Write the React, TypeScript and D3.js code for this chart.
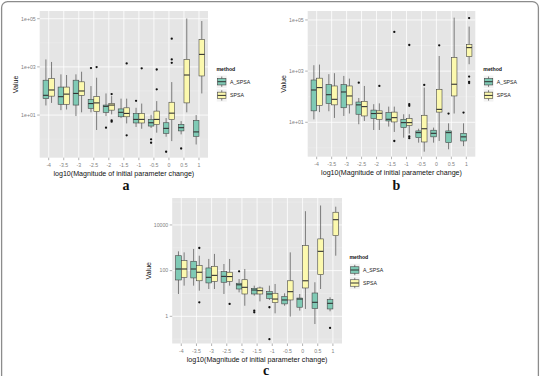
import React from "react";
import * as d3 from "d3";

const categories = ["-4", "-3.5", "-3", "-2.5", "-2", "-1.5", "-1", "-0.5", "0", "0.5", "1"];
const methods = ["A_SPSA", "SPSA"];
const fills = ["#7fcab5", "#fcf9ae"];

// Each row: [lower whisker, Q1, median, Q3, upper whisker]
const aStatsA = [
  [25, 48, 66, 280, 2040], [16, 28, 58, 145, 490], [9.1, 26, 79, 280, 490], [13, 19, 30, 45, 160],
  [9.1, 13, 23, 26, 79], [7.5, 8.5, 13, 18, 48], [3.2, 4.7, 6.6, 11.7, 20], [2.9, 3.5, 4.8, 6.6, 10.3],
  [1.26, 1.73, 2.8, 4.8, 7.5], [1.58, 2.2, 3.0, 4.1, 5.6], [0.6, 1.3, 2.0, 6.0, 10],
];
const aStatsS = [
  [32, 61, 110, 330, 1600], [17, 28, 74, 145, 460], [13, 66, 100, 240, 630], [2.4, 14, 32, 58, 355],
  [10.7, 16, 26, 30, 61], [4.5, 8.5, 11.7, 20, 48], [2.7, 4.7, 6.6, 11.7, 30], [1.86, 4.1, 6.6, 14.6, 38],
  [0.83, 6.6, 12, 34, 234], [13, 32, 460, 2040, 102000], [79, 420, 3300, 13800, 80000],
];
const aOutA = [[], [], [], [890], [3.0], [], [39], [0.98, 0.71], [0.3], [0.41], []];
const aOutS = [[], [], [], [980], [74, 6.0, 5.3], [1390, 1.44], [870], [780, 117], [14800, 2040, 1480], [], []];

const bStatsA = [
  [13, 28, 183, 450, 1700], [27, 54, 120, 297, 760], [17.7, 37, 153, 297, 650], [8.4, 20.6, 48, 62, 89],
  [5.0, 13.9, 22, 30, 51], [6.8, 11.3, 13.1, 24, 41], [2.5, 6.2, 9.7, 13.1, 20.6], [1.6, 2.5, 3.95, 4.6, 5.6],
  [1.6, 2.7, 3.7, 4.9, 6.2], [0.88, 1.6, 3.95, 4.6, 9.1], [1.17, 1.86, 2.7, 3.7, 9.1],
];
const bStatsS = [
  [25, 46, 227, 530, 1800], [14.8, 48, 79, 263, 830], [22, 48, 107, 263, 510], [11.3, 17.7, 41, 66, 263],
  [5.0, 13.1, 22.5, 28, 55], [4.2, 10.3, 15.2, 25, 41], [3.6, 7.6, 9.7, 13.9, 20.6], [0.71, 1.7, 5.6, 18.8, 227],
  [1.86, 25, 32, 195, 3900], [22, 107, 307, 3400, 123000], [1860, 3700, 8300, 11000, 55000],
];
const bOutA = [[], [], [], [355], [], [], [], [], [], [22], [24]];
const bOutS = [[], [], [], [], [263], [34000, 1.86], [10500, 51, 44, 2.8, 2.4], [290], [10200], [], [118000, 610, 380, 340]];

const cStatsA = [
  [9.5, 39, 118, 450, 700], [22, 48, 118, 257, 890], [15.7, 29, 51, 131, 325], [9.5, 31, 56, 90, 195],
  [11.2, 15.7, 24, 28, 43], [8.0, 9.5, 14.2, 16.8, 22], [5.2, 6.1, 9.5, 12, 22], [2.9, 3.5, 5.2, 7.3, 10.2],
  [1.77, 2.5, 5.7, 6.3, 9.5], [0.46, 2.2, 4.1, 10.5, 31], [1.66, 2.1, 3.7, 5.4, 6.8],
];
const cStatsS = [
  [22, 51, 118, 275, 630], [13.3, 36, 85, 166, 450], [15.7, 34, 62, 155, 540], [22, 34, 55, 85, 325],
  [2.9, 9.5, 18.6, 40, 118], [4.5, 9.5, 13.3, 17.4, 20], [1.35, 4.0, 5.7, 10.2, 26], [0.97, 5.2, 12, 36, 630],
  [2.1, 17.4, 36, 1240, 40000], [15.7, 67, 700, 2450, 71000], [450, 3400, 17000, 36000, 63000],
];
const cOutA = [[], [], [], [], [93], [1.77, 1.5], [2.5, 0.1], [], [], [], [0.31]];
const cOutS = [[], [980, 4.1], [], [3.5], [], [], [], [], [], [], []];

const ticksAB = [10, 1000, 100000];
const tickLabelsAB = ["1e+01", "1e+03", "1e+05"];
const minorAB = [1, 100, 10000];
const ticksC = [1, 100, 10000];
const tickLabelsC = ["1", "100", "10000"];
const minorC = [0.1, 10, 1000, 100000];

const xTitle = "log10(Magnitude of initial parameter change)";
const yTitle = "Value";

const panels = [
  {
    letter: "a", stats: [aStatsA, aStatsS], outs: [aOutA, aOutS], ticks: ticksAB, tickLabels: tickLabelsAB, minor: minorAB,
    domain: [Math.pow(10, -0.77), Math.pow(10, 5.32)], x0: 39.7, x1: 208, y0: 11, y1: 157.7,
    yTitleX: 15, legX: 216.5, legTitleY: 69.3, legKeyY: [81.7, 95.4], letterX: 126, letterY: 190,
  },
  {
    letter: "b", stats: [bStatsA, bStatsS], outs: [bOutA, bOutS], ticks: ticksAB, tickLabels: tickLabelsAB, minor: minorAB,
    domain: [Math.pow(10, -0.345), Math.pow(10, 5.35)], x0: 307.7, x1: 475.3, y0: 11, y1: 156.7,
    yTitleX: 283.3, legX: 483.3, legTitleY: 69.3, legKeyY: [81.7, 95.4], letterX: 396.5, letterY: 190,
  },
  {
    letter: "c", stats: [cStatsA, cStatsS], outs: [cOutA, cOutS], ticks: ticksC, tickLabels: tickLabelsC, minor: minorC,
    domain: [Math.pow(10, -1.19), Math.pow(10, 5.18)], x0: 172.2, x1: 342, y0: 198, y1: 343.5,
    yTitleX: 148.3, legX: 349.5, legTitleY: 256.7, legKeyY: [270, 283], letterX: 266, letterY: 374.5,
  },
];

const FONT = "'Liberation Sans', Arial, Helvetica, sans-serif";

function Panel({ p }: { p: any }) {
  const x = d3.scalePoint<string>().domain(categories).range([p.x0, p.x1]).padding(0.6);
  const y = d3.scaleLog().domain(p.domain).range([p.y1, p.y0]);
  const step = x.step();
  const bw = step * 0.375;
  const offs = [-bw / 2, bw / 2];
  const keyW = 10.5, keyH = 13;
  return (
    <g>
      <rect x={p.x0} y={p.y0} width={p.x1 - p.x0} height={p.y1 - p.y0} fill="#e5e5e5" />
      {p.minor.map((m: number, i: number) => (
        <line key={"mn" + i} x1={p.x0} x2={p.x1} y1={y(m)} y2={y(m)} stroke="#f2f2f2" strokeWidth={0.4} />
      ))}
      {p.ticks.map((t: number, i: number) => (
        <line key={"mj" + i} x1={p.x0} x2={p.x1} y1={y(t)} y2={y(t)} stroke="#ffffff" strokeWidth={0.8} />
      ))}
      {categories.map((c) => (
        <line key={"vg" + c} x1={x(c)} x2={x(c)} y1={p.y0} y2={p.y1} stroke="#ffffff" strokeWidth={0.8} />
      ))}
      {methods.map((m, mi) =>
        p.stats[mi].map((s: number[], ci: number) => {
          const cx = (x(categories[ci]) as number) + offs[mi];
          return (
            <g key={m + ci}>
              <line x1={cx} x2={cx} y1={y(s[4])} y2={y(s[3])} stroke="#4d4d4d" strokeWidth={0.7} />
              <line x1={cx} x2={cx} y1={y(s[1])} y2={y(s[0])} stroke="#4d4d4d" strokeWidth={0.7} />
              <rect x={cx - bw / 2} y={y(s[3])} width={bw} height={y(s[1]) - y(s[3])} fill={fills[mi]} stroke="#444" strokeWidth={0.6} />
              <line x1={cx - bw / 2} x2={cx + bw / 2} y1={y(s[2])} y2={y(s[2])} stroke="#333" strokeWidth={1.1} />
              {p.outs[mi][ci].map((o: number, oi: number) => (
                <circle key={oi} cx={cx} cy={y(o)} r={1.15} fill="#111" />
              ))}
            </g>
          );
        })
      )}
      {p.ticks.map((t: number, i: number) => (
        <g key={"yt" + i}>
          <line x1={p.x0 - 2.5} x2={p.x0} y1={y(t)} y2={y(t)} stroke="#7f7f7f" strokeWidth={0.6} />
          <text x={p.x0 - 4} y={y(t)} dy="0.35em" textAnchor="end" fontSize={5.2} fill="#7f7f7f" fontFamily={FONT}>
            {p.tickLabels[i]}
          </text>
        </g>
      ))}
      {categories.map((c) => (
        <g key={"xt" + c}>
          <line x1={x(c)} x2={x(c)} y1={p.y1} y2={p.y1 + 2.5} stroke="#7f7f7f" strokeWidth={0.6} />
          <text x={x(c)} y={p.y1 + 7.3} dy="0.35em" textAnchor="middle" fontSize={5.2} fill="#7f7f7f" fontFamily={FONT}>
            {c}
          </text>
        </g>
      ))}
      <text x={(p.x0 + p.x1) / 2} y={p.y1 + 16} dy="0.35em" textAnchor="middle" fontSize={7.1} fill="#111" fontFamily={FONT}>
        {xTitle}
      </text>
      <text
        transform={`translate(${p.yTitleX},${(p.y0 + p.y1) / 2}) rotate(-90)`}
        dy="0.35em" textAnchor="middle" fontSize={7.1} fill="#111" fontFamily={FONT}
      >
        {yTitle}
      </text>
      <text x={p.legX} y={p.legTitleY} dy="0.35em" fontSize={5.2} fontWeight="bold" fill="#111" fontFamily={FONT}>
        method
      </text>
      {methods.map((m, mi) => {
        const ky = p.legKeyY[mi];
        const kx = p.legX;
        const top = ky - keyH / 2;
        return (
          <g key={"lg" + m}>
            <rect x={kx} y={top} width={keyW} height={keyH} fill="#f2f2f2" stroke="#ffffff" strokeWidth={0.5} />
            <line x1={kx + keyW / 2} x2={kx + keyW / 2} y1={top + keyH * 0.1} y2={top + keyH * 0.9} stroke="#4d4d4d" strokeWidth={0.7} />
            <rect x={kx + keyW * 0.1} y={top + keyH * 0.25} width={keyW * 0.8} height={keyH * 0.5} fill={fills[mi]} stroke="#444" strokeWidth={0.6} />
            <line x1={kx + keyW * 0.1} x2={kx + keyW * 0.9} y1={ky} y2={ky} stroke="#333" strokeWidth={1} />
            <text x={kx + keyW + 3} y={ky} dy="0.35em" fontSize={5.2} fill="#222" fontFamily={FONT}>
              {m}
            </text>
          </g>
        );
      })}
      <text x={p.letterX} y={p.letterY} textAnchor="middle" fontSize={14} fontWeight="bold" fill="#111" fontFamily="'Liberation Serif', 'Times New Roman', serif">
        {p.letter}
      </text>
    </g>
  );
}

export default function App() {
  return (
    <svg width={540} height={376} style={{ position: "absolute", left: 0, top: 0, background: "#fff" }}>
      <rect x={0} y={0} width={540} height={376} fill="#ffffff" />
      <rect x={1.6} y={1.6} width={536.8} height={420} rx={6} ry={6} fill="none" stroke="#8c8c8c" strokeWidth={1.3} />
      {panels.map((p) => (
        <Panel key={p.letter} p={p} />
      ))}
    </svg>
  );
}
